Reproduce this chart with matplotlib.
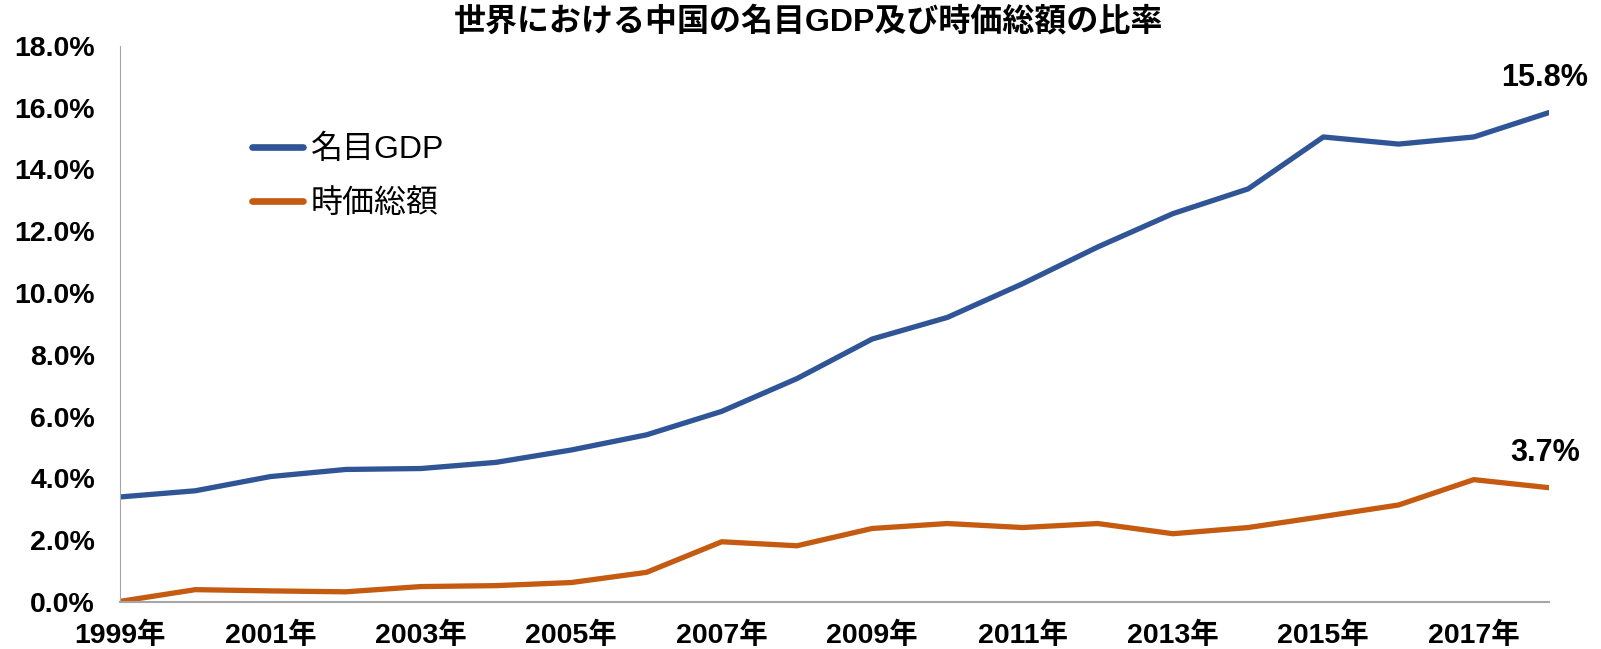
import numpy as np
import matplotlib
matplotlib.use("Agg")
import matplotlib.pyplot as plt
from matplotlib.ticker import PercentFormatter

plt.rcParams['font.family'] = ['Liberation Sans', 'Noto Sans CJK JP']

# data (share of world, %)
years = list(range(1999, 2019))
gdp_share = [3.40, 3.60, 4.06, 4.29, 4.32, 4.52, 4.92, 5.41, 6.17, 7.23,
             8.51, 9.21, 10.30, 11.49, 12.57, 13.37, 15.05, 14.82, 15.05, 15.84]
mcap_share = [0.02, 0.40, 0.36, 0.33, 0.50, 0.53, 0.63, 0.96, 1.95, 1.82,
              2.38, 2.54, 2.41, 2.54, 2.21, 2.41, 2.77, 3.14, 3.96, 3.70]
series_names = ['名目GDP', '時価総額']
end_labels = ['15.8%', '3.7%']
title = '世界における中国の名目GDP及び時価総額の比率'

blue = '#2F5597'
orange = '#C55A11'

fig = plt.figure(figsize=(16.01, 6.49), dpi=100)
ax = fig.add_axes([0.075, 0.0724, 0.8925, 0.857])

ax.plot(years, gdp_share, color=blue, lw=3.8, solid_capstyle='round',
        solid_joinstyle='round', label=series_names[0])
ax.plot(years, mcap_share, color=orange, lw=3.8, solid_capstyle='round',
        solid_joinstyle='round', label=series_names[1])

ax.set_xlim(years[0], years[-1])
ax.set_ylim(0, 18)
ax.set_yticks(np.arange(0, 18.1, 2))
ax.yaxis.set_major_formatter(PercentFormatter(decimals=1))
ax.set_xticks(years[::2])
ax.set_xticklabels([f'{y}年' for y in years[::2]])
ax.tick_params(length=0, labelsize=20.5)
ax.tick_params(axis='x', pad=14)
ax.tick_params(axis='y', pad=18)
for lab in ax.get_xticklabels() + ax.get_yticklabels():
    lab.set_fontweight('bold')

for side in ['top', 'right']:
    ax.spines[side].set_visible(False)
ax.spines['left'].set_color('#A6A6A6')
ax.spines['bottom'].set_color('#A6A6A6')
ax.spines['bottom'].set_linewidth(1.5)

# end-point value labels
for vals, txt in zip([gdp_share, mcap_share], end_labels):
    ax.annotate(txt, xy=(years[-1], vals[-1]), xytext=(-3, 14),
                textcoords='offset points', ha='center', va='bottom',
                fontsize=22, fontweight='bold', annotation_clip=False)

leg = ax.legend(loc='upper left', bbox_to_anchor=(0.092, 0.84), frameon=False,
                fontsize=23, handlelength=1.6, handletextpad=0.25,
                labelspacing=0.75, borderpad=0, borderaxespad=0)
for h in leg.get_lines():
    h.set_linewidth(4.8)
    h.set_solid_capstyle('round')

fig.text(0.505, 0.99, title, ha='center', va='top', fontsize=23,
         fontweight='bold')

fig.savefig('out.png', dpi=100)
